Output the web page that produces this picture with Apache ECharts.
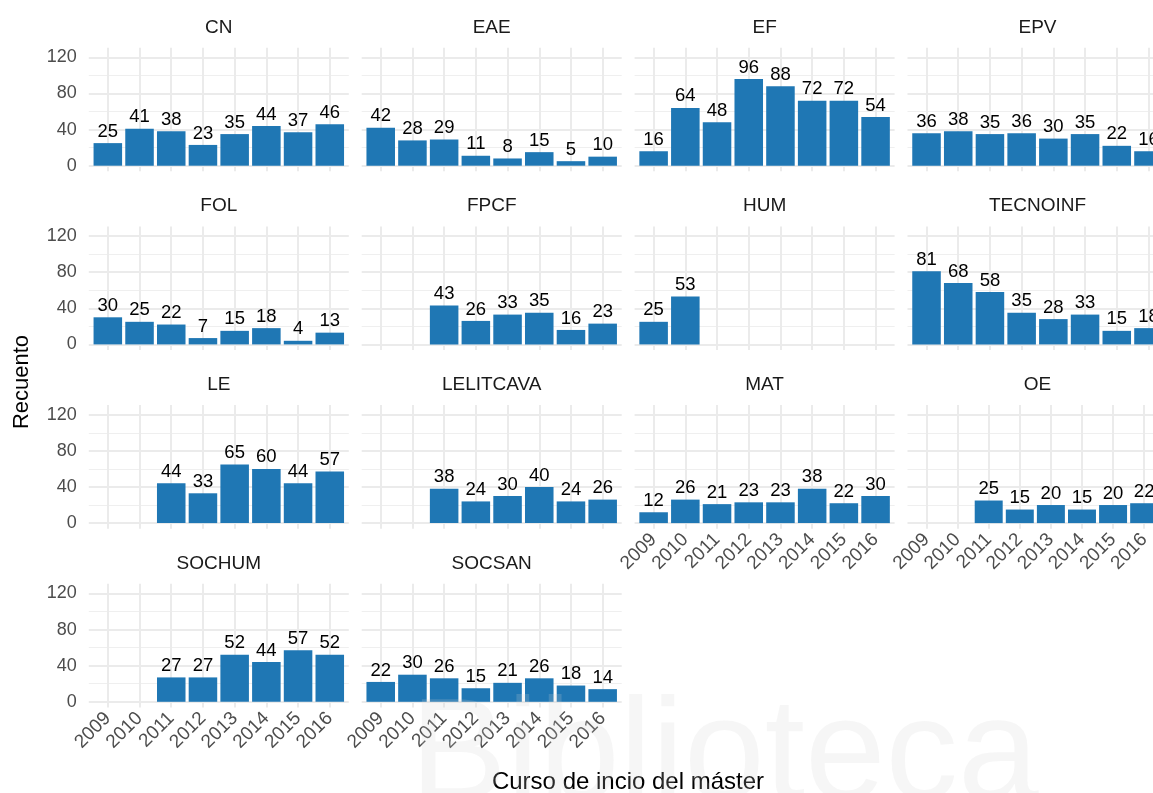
<!DOCTYPE html>
<html>
<head>
<meta charset="utf-8">
<title>Recuento por curso de inicio</title>
<script src="https://cdn.jsdelivr.net/npm/echarts@6/dist/echarts.min.js"></script>
<style>
  html, body { margin: 0; padding: 0; background: #fff; }
  #chart { width: 1153px; height: 793px; }
</style>
</head>
<body>
<div id="chart"></div>
<script>
(function() {
  /** Data */
  var years = ['2009', '2010', '2011', '2012', '2013', '2014', '2015', '2016'];
  var yTicks = [0, 40, 80, 120];

  var cn = [25, 41, 38, 23, 35, 44, 37, 46];
  var eae = [42, 28, 29, 11, 8, 15, 5, 10];
  var ef = [16, 64, 48, 96, 88, 72, 72, 54];
  var epv = [36, 38, 35, 36, 30, 35, 22, 16];
  var fol = [30, 25, 22, 7, 15, 18, 4, 13];
  var fpcf = [null, null, 43, 26, 33, 35, 16, 23];
  var hum = [25, 53, null, null, null, null, null, null];
  var tecnoinf = [81, 68, 58, 35, 28, 33, 15, 18];
  var le = [null, null, 44, 33, 65, 60, 44, 57];
  var lelitcava = [null, null, 38, 24, 30, 40, 24, 26];
  var mat = [12, 26, 21, 23, 23, 38, 22, 30];
  var oe = [null, null, 25, 15, 20, 15, 20, 22];
  var sochum = [null, null, 27, 27, 52, 44, 57, 52];
  var socsan = [22, 30, 26, 15, 21, 26, 18, 14];

  var facets = ['CN', 'EAE', 'EF', 'EPV', 'FOL', 'FPCF', 'HUM', 'TECNOINF',
    'LE', 'LELITCAVA', 'MAT', 'OE', 'SOCHUM', 'SOCSAN'];
  var counts = [cn, eae, ef, epv, fol, fpcf, hum, tecnoinf,
    le, lelitcava, mat, oe, sochum, socsan];

  /** Layout (ggplot facet_wrap, 4 columns) */
  var font = '"Liberation Sans", Arial, Helvetica, sans-serif';
  var panelW = 260, colStep = 272.9, left0 = 88.8;
  var zero0 = 165.7, rowStep = 178.7;
  var pxPerUnit = 108.4 / 120;
  var yLow = -6.2, yHigh = 130.6;
  var band = panelW / 8.2;
  var nCols = 4, nFacets = facets.length;

  var grids = [], xAxes = [], yAxes = [], series = [], graphics = [];

  facets.forEach(function(name, i) {
    var col = i % nCols, row = Math.floor(i / nCols);
    var pl = left0 + col * colStep;
    var zero = zero0 + row * rowStep;
    var isBottom = (i + nCols) >= nFacets;
    var isLeft = col === 0;

    // background grid: horizontal grid lines over the whole panel width
    var g = grids.length;
    grids.push({ left: pl, top: zero - 120 * pxPerUnit, width: panelW, height: 120 * pxPerUnit });
    xAxes.push({ gridIndex: g, type: 'value', min: 0, max: 1, show: false });
    yAxes.push({
      gridIndex: g, type: 'value', min: yTicks[0], max: yTicks[yTicks.length - 1], interval: 40,
      axisLine: { show: false }, axisTick: { show: false },
      axisLabel: { show: isLeft, margin: 12, color: '#4d4d4d', fontSize: 18, fontFamily: font },
      splitLine: { show: true, lineStyle: { color: '#ebebeb', width: 2 } },
      minorTick: { show: false, splitNumber: 2 },
      minorSplitLine: { show: true, lineStyle: { color: '#efefef', width: 1 } }
    });

    // bar grid: category centres, vertical grid lines, bars
    var b = grids.length;
    grids.push({
      left: pl + 0.6 * band, top: zero - yHigh * pxPerUnit,
      width: 7 * band, height: (yHigh - yLow) * pxPerUnit
    });
    xAxes.push({
      gridIndex: b, type: 'category', data: years, boundaryGap: false,
      axisLine: { show: false }, axisTick: { show: false },
      axisLabel: {
        show: isBottom, rotate: 45, margin: 8, interval: 0,
        color: '#4d4d4d', fontSize: 19, fontFamily: font
      },
      splitLine: { show: true, interval: 0, lineStyle: { color: '#ebebeb', width: 2 } }
    });
    yAxes.push({ gridIndex: b, type: 'value', min: yLow, max: yHigh, show: false });

    series.push({
      name: name, type: 'bar', xAxisIndex: b, yAxisIndex: b,
      data: counts[i], barCategoryGap: '10%',
      itemStyle: { color: '#1f77b4' },
      label: {
        show: true, position: 'top', distance: 2,
        color: '#000', fontSize: 18.5, fontFamily: font
      }
    });

    // strip title
    graphics.push({
      type: 'text', x: pl + panelW / 2, y: zero - 120 * pxPerUnit - 30,
      style: {
        text: name, fill: '#1a1a1a', font: '19px ' + font,
        align: 'center', verticalAlign: 'middle',
        textAlign: 'center', textVerticalAlign: 'middle'
      }
    });
  });

  /** Axis titles */
  graphics.push({
    type: 'text', x: 22, y: 382, rotation: Math.PI / 2,
    style: {
      text: 'Recuento', fill: '#000', font: '22px ' + font,
      align: 'center', verticalAlign: 'middle',
      textAlign: 'center', textVerticalAlign: 'middle'
    }
  });
  graphics.push({
    type: 'text', x: 628, y: 782,
    style: {
      text: 'Curso de incio del máster', fill: '#000', font: '24px ' + font,
      align: 'center', verticalAlign: 'middle',
      textAlign: 'center', textVerticalAlign: 'middle'
    }
  });

  /** Faint library watermark */
  graphics.push({
    type: 'text', x: 410, y: 832, z: 100, silent: true,
    style: {
      text: 'Biblioteca', fill: 'rgba(210,210,210,0.2)', font: '145px ' + font,
      align: 'left', verticalAlign: 'bottom',
      textAlign: 'left', textVerticalAlign: 'bottom'
    }
  });

  var option = {
    backgroundColor: '#fff',
    animation: false,
    grid: grids,
    xAxis: xAxes,
    yAxis: yAxes,
    series: series,
    graphic: graphics
  };

  echarts.init(document.getElementById('chart')).setOption(option);
})();
</script>
</body>
</html>
